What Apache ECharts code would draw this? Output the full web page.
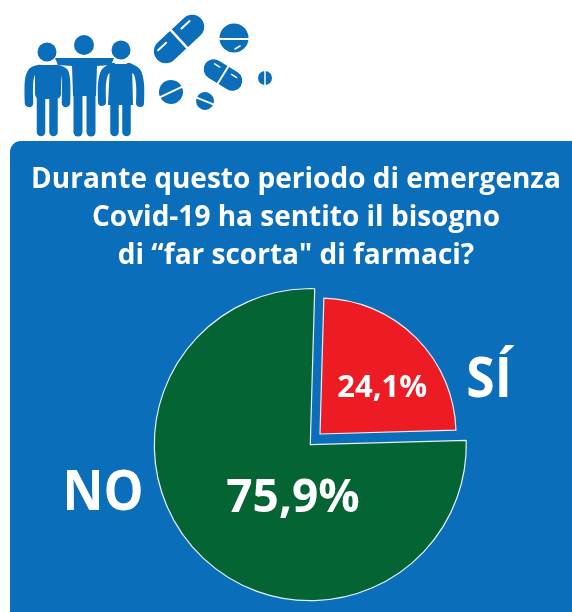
<!DOCTYPE html>
<html>
<head>
<meta charset="utf-8">
<style>html,body{margin:0;padding:0;background:#fff}#chart{width:572px;height:612px}</style>
<script src="https://cdn.jsdelivr.net/npm/echarts@6/dist/echarts.min.js"></script>
</head>
<body>
<div id="chart"></div>
<script>
const categories = ['SÍ', 'NO'];
const shares = [24.1, 75.9];
const titleLines = ['Durante questo periodo di emergenza', 'Covid-19 ha sentito il bisogno', 'di “far scorta" di farmaci?'];

const BLUE = '#0a6eba', GREEN = '#056434', RED = '#ed1c24';
const FONT = '"Open Sans", sans-serif';

// Blue glyph helpers for the header artwork
const disc = (x, y, r) => ({ type: 'circle', shape: { cx: x, cy: y, r }, style: { fill: BLUE } });
const limb = (points, w, smooth) => ({
  type: 'polyline', shape: { points, smooth: smooth || 0 },
  style: { stroke: BLUE, lineWidth: w, lineCap: 'round', lineJoin: 'round', fill: null }
});
const block = (x, y, width, height, r) => ({ type: 'rect', shape: { x, y, width, height, r: r || 0 }, style: { fill: BLUE } });
const poly = (points) => ({ type: 'polygon', shape: { points }, style: { fill: BLUE } });
const cut = (x1, y1, x2, y2, w) => ({
  type: 'line', shape: { x1, y1, x2, y2 },
  style: { stroke: '#fff', lineWidth: w || 2, lineCap: 'round' }
});
const capsule = (x, y, len, w, deg, extras) => ({
  type: 'group', x, y, rotation: deg * Math.PI / 180,
  children: [{ type: 'rect', shape: { x: -len / 2, y: -w / 2, width: len, height: w, r: w / 2 }, style: { fill: BLUE } }].concat(extras)
});
const tablet = (x, y, r, deg, extras) => ({
  type: 'group', x, y, rotation: deg * Math.PI / 180,
  children: [{ type: 'circle', shape: { cx: 0, cy: 0, r }, style: { fill: BLUE } }].concat(extras)
});

const people = [
  disc(47, 52, 9.5),
  block(35, 65, 26, 34, 5),
  limb([[40, 69], [32, 72], [29, 82], [29, 103]], 8.5, 0.3),
  limb([[56, 69], [64, 72], [66, 82], [66, 103]], 8.5, 0.3),
  limb([[41, 96], [41, 132]], 8.5),
  limb([[53.5, 96], [53.5, 132]], 8.5),

  disc(84, 45, 10),
  poly([[55, 58], [114, 58], [111, 65], [97, 66], [96, 96], [73, 96], [72, 66], [58, 65]]),
  limb([[78, 92], [78, 132]], 9),
  limb([[91, 92], [91, 132]], 9),

  disc(121, 50, 9.5),
  poly([[110, 64], [132, 64], [133, 105], [108, 105]]),
  limb([[113, 67], [105, 72], [102, 84], [102, 102]], 8, 0.3),
  limb([[129, 67], [137, 72], [140, 84], [140, 103]], 8, 0.3),
  limb([[114.5, 100], [114.5, 132]], 8.5),
  limb([[126.5, 100], [126.5, 132]], 8.5)
];

const pills = [
  capsule(179, 39, 60, 24, 43, [cut(0, -12, 0, 12, 2.5), cut(-23, -6, -12, -6, 2), cut(9, -6, 20, -6, 2)]),
  tablet(234, 38, 14.5, 0, [cut(-14.5, 1, 14.5, 1, 2), cut(1, 11, 6, 8, 1.5)]),
  capsule(223, 75, 42, 20, -32, [cut(0, -10, 0, 10, 2), cut(-13, -5, -7, -5, 1.5), cut(7, -5, 13, -5, 1.5)]),
  tablet(265, 78, 7, 0, [cut(0, -7, 0, 7, 1.5)]),
  tablet(171, 92, 12, 25, [cut(-12, 0, 12, 0, 2)]),
  tablet(205, 101, 9, -22, [cut(-9, 0, 9, 0, 1.8)])
];

const titleBottoms = [194, 232, 270];
const titleGraphics = titleLines.map((text, i) => ({
  type: 'text', x: 296, y: titleBottoms[i],
  style: { text, fill: '#fff', font: '700 28px ' + FONT, align: 'center', verticalAlign: 'bottom' }
}));

const startAngle = 45 + shares[0] * 1.8;
const percent = (p) => p.value.toFixed(1).replace('.', ',') + '%';

// One ring per slice, since the two slices have separate centres and radii
const sliceSeries = (shown, center, radius, labelFont, offset) => ({
  type: 'pie', animation: false, silent: true, startAngle, center, radius: [0, radius],
  labelLine: { show: false },
  data: categories.map((name, i) => i === shown ? {
    name, value: shares[i],
    itemStyle: { color: i === 0 ? RED : GREEN, borderColor: '#e6f0f4', borderWidth: 1.2 },
    label: { show: true, position: 'inside', formatter: percent, color: '#fff', fontFamily: FONT, fontWeight: 700, fontSize: labelFont, offset }
  } : {
    name, value: shares[i],
    itemStyle: { color: 'transparent', borderWidth: 0 },
    label: { show: false }
  })
});

const chart = echarts.init(document.getElementById('chart'), null, { renderer: 'canvas' });
chart.setOption({
  animation: false,
  backgroundColor: '#fff',
  graphic: [
    { type: 'rect', z: -10, shape: { x: 10, y: 141, width: 580, height: 490, r: [11, 0, 0, 0] }, style: { fill: BLUE } },
    ...people, ...pills, ...titleGraphics,
    { type: 'text', x: 489, y: 409, scaleX: 0.92, style: { text: categories[0], fill: '#fff', font: '700 56px ' + FONT, align: 'center', verticalAlign: 'bottom' } },
    { type: 'text', x: 103, y: 522, scaleX: 0.9, style: { text: categories[1], fill: '#fff', font: '700 56px ' + FONT, align: 'center', verticalAlign: 'bottom' } }
  ],
  series: [
    sliceSeries(1, [310.3, 444.7], 156, 46, [40, -3]),
    sliceSeries(0, [320, 434], 136, 31, [12, 4])
  ]
});
</script>
</body>
</html>
